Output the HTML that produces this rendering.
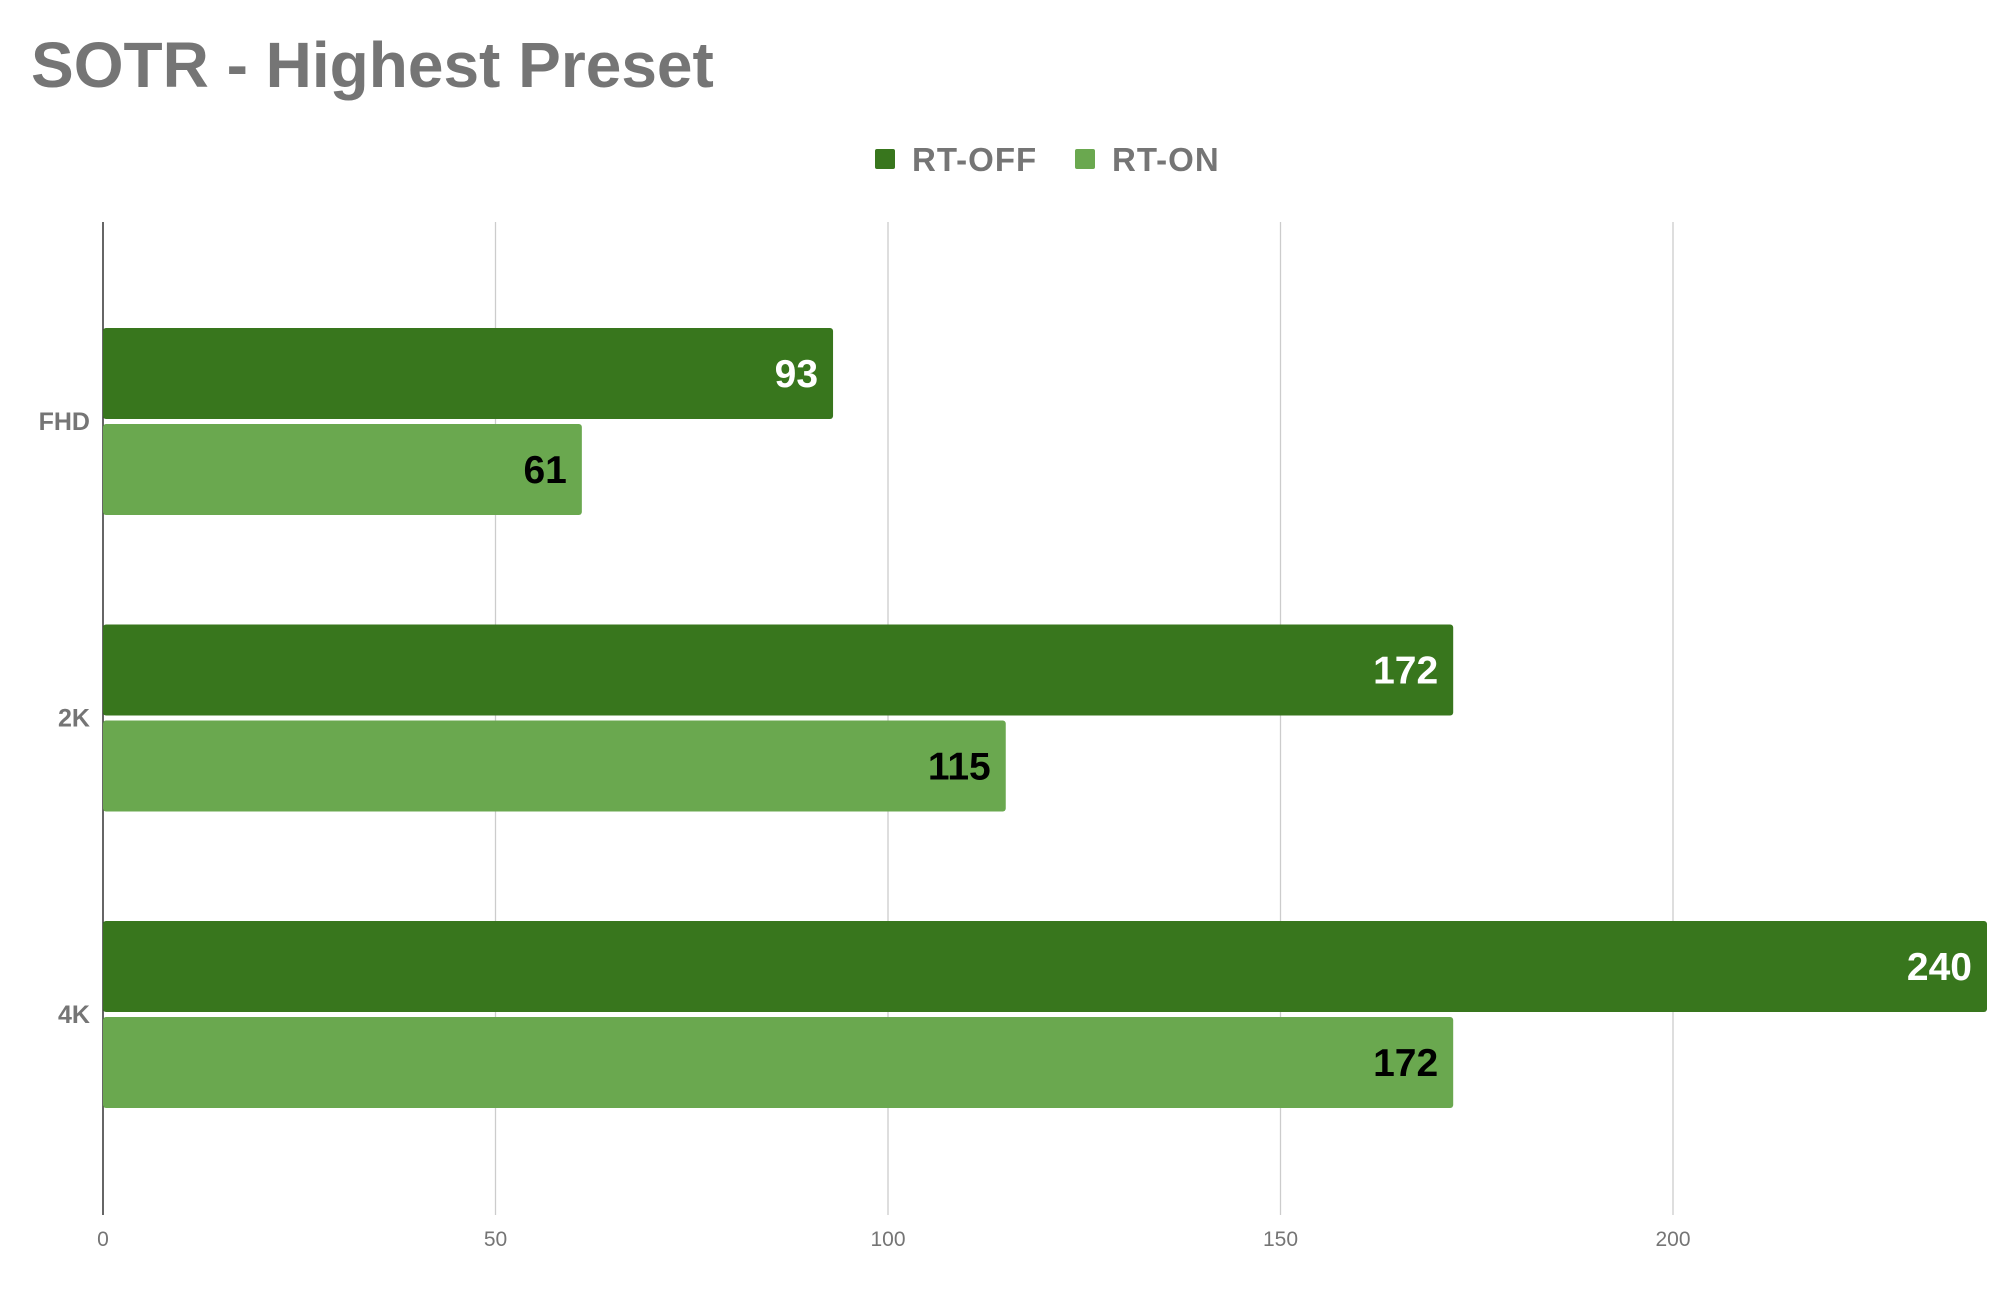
<!DOCTYPE html>
<html><head><meta charset="utf-8"><style>
html,body{margin:0;padding:0;background:#fff;width:2011px;height:1301px;overflow:hidden}
svg{display:block}
text{font-family:"Liberation Sans",Arial,sans-serif}
</style></head><body>
<svg id="chart" width="2011" height="1301" viewBox="0 0 2011 1301">
<text x="31" y="87" font-size="64" font-weight="bold" fill="#757575">SOTR - Highest Preset</text>
<g>
<g><rect x="875" y="149" width="20" height="20" rx="2" fill="#38761d"/><text x="912" y="171" font-size="33" font-weight="bold" letter-spacing="1" fill="#757575">RT-OFF</text></g>
<g><rect x="1075" y="149" width="20" height="20" rx="2" fill="#6aa84f"/><text x="1112" y="171" font-size="33" font-weight="bold" letter-spacing="1" fill="#757575">RT-ON</text></g>
</g>
<g id="grid"></g><g id="bars"></g>
</svg>
<script>
const categories = ["FHD", "2K", "4K"];
const rtOff = [93, 172, 240];
const rtOn = [61, 115, 172];
const ticks = [0, 50, 100, 150, 200];
const NS = "http://www.w3.org/2000/svg";
const x0 = 103, pxPerUnit = 7.85, plotTop = 222, plotBottom = 1215;
const xs = v => x0 + v * pxPerUnit;
const yc = i => 421 + i * 296.5;
function mk(tag, attrs, parent, txt){const e=document.createElementNS(NS,tag);for(const k in attrs)e.setAttribute(k,attrs[k]);if(txt!==undefined)e.textContent=txt;parent.appendChild(e);return e;}
const grid=document.getElementById('grid'), bars=document.getElementById('bars');
ticks.forEach(t=>{
  if(t>0){const l=mk('line',{x1:xs(t),x2:xs(t),y1:plotTop,y2:plotBottom,stroke:'#cccccc','stroke-width':1.3},grid);
  
  }
  const tx=mk('text',{x:xs(t),y:1246,'font-size':21,fill:'#757575','text-anchor':'middle'},grid,String(t));
  
  
});
const ax=mk('line',{x1:x0,x2:x0,y1:plotTop,y2:plotBottom,stroke:'#333','stroke-width':1.5},grid);


categories.forEach((c,i)=>{
  const cy=yc(i);
  const cl=mk('text',{x:90,y:cy+9,'font-size':25,'font-weight':'bold',fill:'#757575','text-anchor':'end'},bars,c);
  
  
  [[rtOff[i],cy-93,'#38761d','#ffffff','rt-off'],[rtOn[i],cy+3,'#6aa84f','#000000','rt-on']].forEach(([v,y,fill,tc,s])=>{
    const r=mk('rect',{x:x0,y:y,width:xs(v)-x0,height:91,rx:3,fill:fill},bars);
    
    
    const t=mk('text',{x:xs(v)-15,y:y+59,'font-size':39,'font-weight':'bold',fill:tc,'text-anchor':'end'},bars,String(v));
    
    
  });
});
</script>
</body></html>
